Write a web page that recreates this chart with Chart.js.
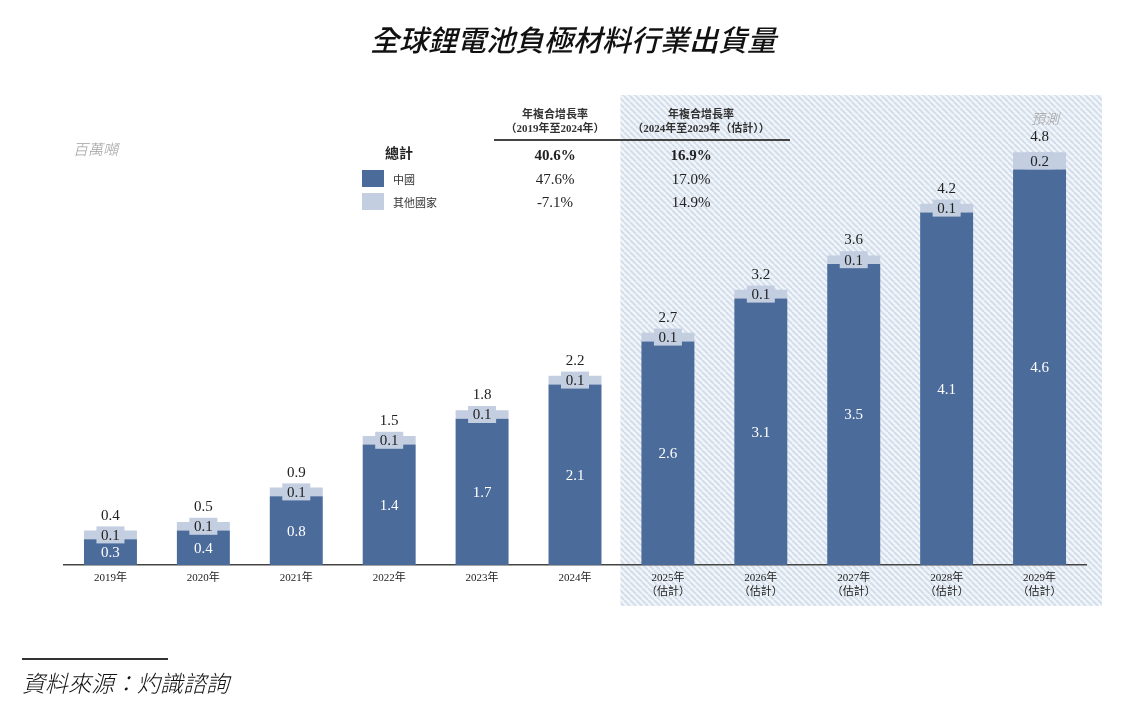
<!DOCTYPE html>
<html>
<head>
<meta charset="utf-8">
<script src="https://cdn.jsdelivr.net/npm/chart.js@4.4.1/dist/chart.umd.min.js"></script>
<style>
  html, body { margin: 0; padding: 0; background: #fff; }
  #wrap { position: relative; width: 1144px; height: 703px; overflow: hidden; }
  #chart { position: absolute; left: 0; top: 0; }
  .t { position: absolute; white-space: nowrap; line-height: 1; }
  .c { transform: translate(-50%, -50%); }
  .l { transform: translate(0, -50%); }
  .hdr { font-family: "Liberation Serif", "Noto Sans CJK TC", serif; font-size: 11px; font-weight: bold; color: #333; }
  .num { font-family: "Liberation Serif", serif; font-size: 15px; color: #222; }
  .sw { position: absolute; width: 22px; height: 17px; }
</style>
</head>
<body>
<div id="wrap">
  <canvas id="chart" width="1144" height="703"></canvas>
  <div class="t c" id="title" style="left:573px; top:38px; font-family:'Noto Sans CJK TC'; font-size:29px; font-style:italic; font-weight:500; color:#111;"></div>
  <div class="t l" id="unit" style="left:73px; top:148px; font-family:'Noto Sans CJK TC'; font-size:15px; font-style:italic; font-weight:300; color:#a0a0a0;"></div>
  <div class="t l" id="fcst" style="left:1031px; top:118px; font-family:'Noto Sans CJK TC'; font-size:14px; font-style:italic; font-weight:300; color:#a0a0a0;"></div>
  <div id="table"></div>
  <div style="position:absolute; left:22px; top:658px; width:146px; height:2px; background:#333;"></div>
  <div class="t l" id="source" style="left:22px; top:682px; font-family:'Noto Sans CJK TC'; font-size:23px; font-style:italic; font-weight:300; color:#111;"></div>
</div>
<script>
// Chart data
const years = ['2019年', '2020年', '2021年', '2022年', '2023年', '2024年', '2025年', '2026年', '2027年', '2028年', '2029年'];
const firstForecast = 6;
const china = [0.3, 0.4, 0.8, 1.4, 1.7, 2.1, 2.6, 3.1, 3.5, 4.1, 4.6];
const others = [0.1, 0.1, 0.1, 0.1, 0.1, 0.1, 0.1, 0.1, 0.1, 0.1, 0.2];
const totals = [0.4, 0.5, 0.9, 1.5, 1.8, 2.2, 2.7, 3.2, 3.6, 4.2, 4.8];

// CAGR table
const cagrRows = ['總計', '中國', '其他國家'];
const cagrHist = ['40.6%', '47.6%', '-7.1%'];
const cagrFcst = ['16.9%', '17.0%', '14.9%'];
const cagrHeads = [['年複合增長率', '（2019年至2024年）'], ['年複合增長率', '（2024年至2029年（估計））']];

const DARK = '#4b6b9b';
const LIGHT = '#c3cee0';

document.getElementById('title').textContent = '全球鋰電池負極材料行業出貨量';
document.getElementById('unit').textContent = '百萬噸';
document.getElementById('fcst').textContent = '預測';
document.getElementById('source').textContent = '資料來源：灼識諮詢';

// Build the CAGR table as positioned text
function addText(parent, text, cls, x, y, extra) {
    const d = document.createElement('div');
    d.className = 't ' + cls;
    d.style.left = x + 'px';
    d.style.top = y + 'px';
    if (extra) d.style.cssText += extra;
    d.textContent = text;
    parent.appendChild(d);
    return d;
}
const table = document.getElementById('table');
const colX = [555, 691];
const headX = [555, 701];
cagrHeads.forEach((h, i) => {
    addText(table, h[0], 'c hdr', headX[i], 113, 'font-family:"Noto Sans CJK TC";');
    addText(table, h[1], 'c hdr', headX[i], 128);
});
const rule = document.createElement('div');
rule.style.cssText = 'position:absolute; left:494px; top:139px; width:296px; height:1.5px; background:#444;';
table.appendChild(rule);
const rowY = [155, 179, 202];
addText(table, cagrRows[0], 'c', 399, 152, 'font-family:"Noto Sans CJK TC"; font-size:14px; font-weight:bold; color:#222;');
[1, 2].forEach(r => {
    const sw = document.createElement('div');
    sw.className = 'sw';
    sw.style.left = '362px';
    sw.style.top = (rowY[r] - 9) + 'px';
    sw.style.background = r === 1 ? DARK : LIGHT;
    table.appendChild(sw);
    addText(table, cagrRows[r], 'l', 393, rowY[r], 'font-family:"Noto Sans CJK TC"; font-size:11px; color:#333;');
});
rowY.forEach((y, r) => {
    const bold = r === 0 ? 'font-weight:bold;' : '';
    addText(table, cagrHist[r], 'c num', colX[0], y, bold);
    addText(table, cagrFcst[r], 'c num', colX[1], y, bold);
});

// Hatch pattern for forecast zone
function makeHatch() {
    const c = document.createElement('canvas');
    c.width = 6; c.height = 6;
    const g = c.getContext('2d');
    g.fillStyle = '#f2f5f9';
    g.fillRect(0, 0, 6, 6);
    g.strokeStyle = '#d2deeb';
    g.lineWidth = 2;
    [-6, 0, 6].forEach(x0 => {
        g.beginPath();
        g.moveTo(x0, 0);
        g.lineTo(x0 + 6, 6);
        g.stroke();
    });
    return g.createPattern(c, 'repeat');
}

// Drawn before the axes so the baseline and tick labels sit on top
const forecastZone = {
    id: 'forecastZone',
    beforeDraw(chart) {
        const { ctx, chartArea, scales: { x, y } } = chart;
        const left = (x.getPixelForValue(firstForecast - 1) + x.getPixelForValue(firstForecast)) / 2 - 1;
        const right = chartArea.right + 16;
        const top = y.getPixelForValue(5.5) + 3;
        const bottom = chartArea.bottom + 41;
        ctx.save();
        ctx.fillStyle = makeHatch();
        ctx.fillRect(left, top, right - left, bottom - top);
        ctx.restore();
    }
};

const barLabels = {
    id: 'barLabels',
    afterDatasetsDraw(chart) {
        const ctx = chart.ctx;
        const m0 = chart.getDatasetMeta(0);
        const m1 = chart.getDatasetMeta(1);
        ctx.save();
        ctx.font = '15px "Liberation Serif"';
        ctx.textAlign = 'center';
        ctx.textBaseline = 'middle';
        m0.data.forEach((bar, i) => {
            ctx.fillStyle = '#fff';
            ctx.fillText(china[i].toFixed(1), bar.x, (bar.y + bar.base) / 2 + 1);
        });
        m1.data.forEach((bar, i) => {
            const cy = (bar.y + bar.base) / 2;
            ctx.fillStyle = LIGHT;
            ctx.fillRect(bar.x - 14, cy - 8.5, 28, 17);
            ctx.fillStyle = '#222';
            ctx.fillText(others[i].toFixed(1), bar.x, cy + 1);
            ctx.fillText(totals[i].toFixed(1), bar.x, bar.y - 15);
        });
        ctx.restore();
    }
};

const xLabels = years.map((y, i) => i >= firstForecast ? [y, '（估計）'] : y);

new Chart(document.getElementById('chart'), {
    type: 'bar',
    data: {
        labels: xLabels,
        datasets: [
            { label: '中國', data: china, backgroundColor: DARK, barPercentage: 0.57, categoryPercentage: 1 },
            { label: '其他國家', data: others, backgroundColor: LIGHT, barPercentage: 0.57, categoryPercentage: 1 }
        ]
    },
    options: {
        responsive: false,
        animation: false,
        layout: { padding: { left: 64, right: 58, top: 92, bottom: 98 } },
        plugins: { legend: { display: false }, tooltip: { enabled: false } },
        scales: {
            x: {
                stacked: true,
                grid: { display: false, drawTicks: false },
                border: { display: true, color: '#444', width: 1.5 },
                ticks: {
                    padding: 6,
                    color: '#222',
                    font: { family: '"Liberation Serif", "Noto Sans CJK TC"', size: 11, lineHeight: 1.3 }
                },
                afterFit(scale) { scale.height = 40; }
            },
            y: { stacked: true, display: false, min: 0, max: 5.5 }
        }
    },
    plugins: [forecastZone, barLabels]
});
</script>
</body>
</html>
